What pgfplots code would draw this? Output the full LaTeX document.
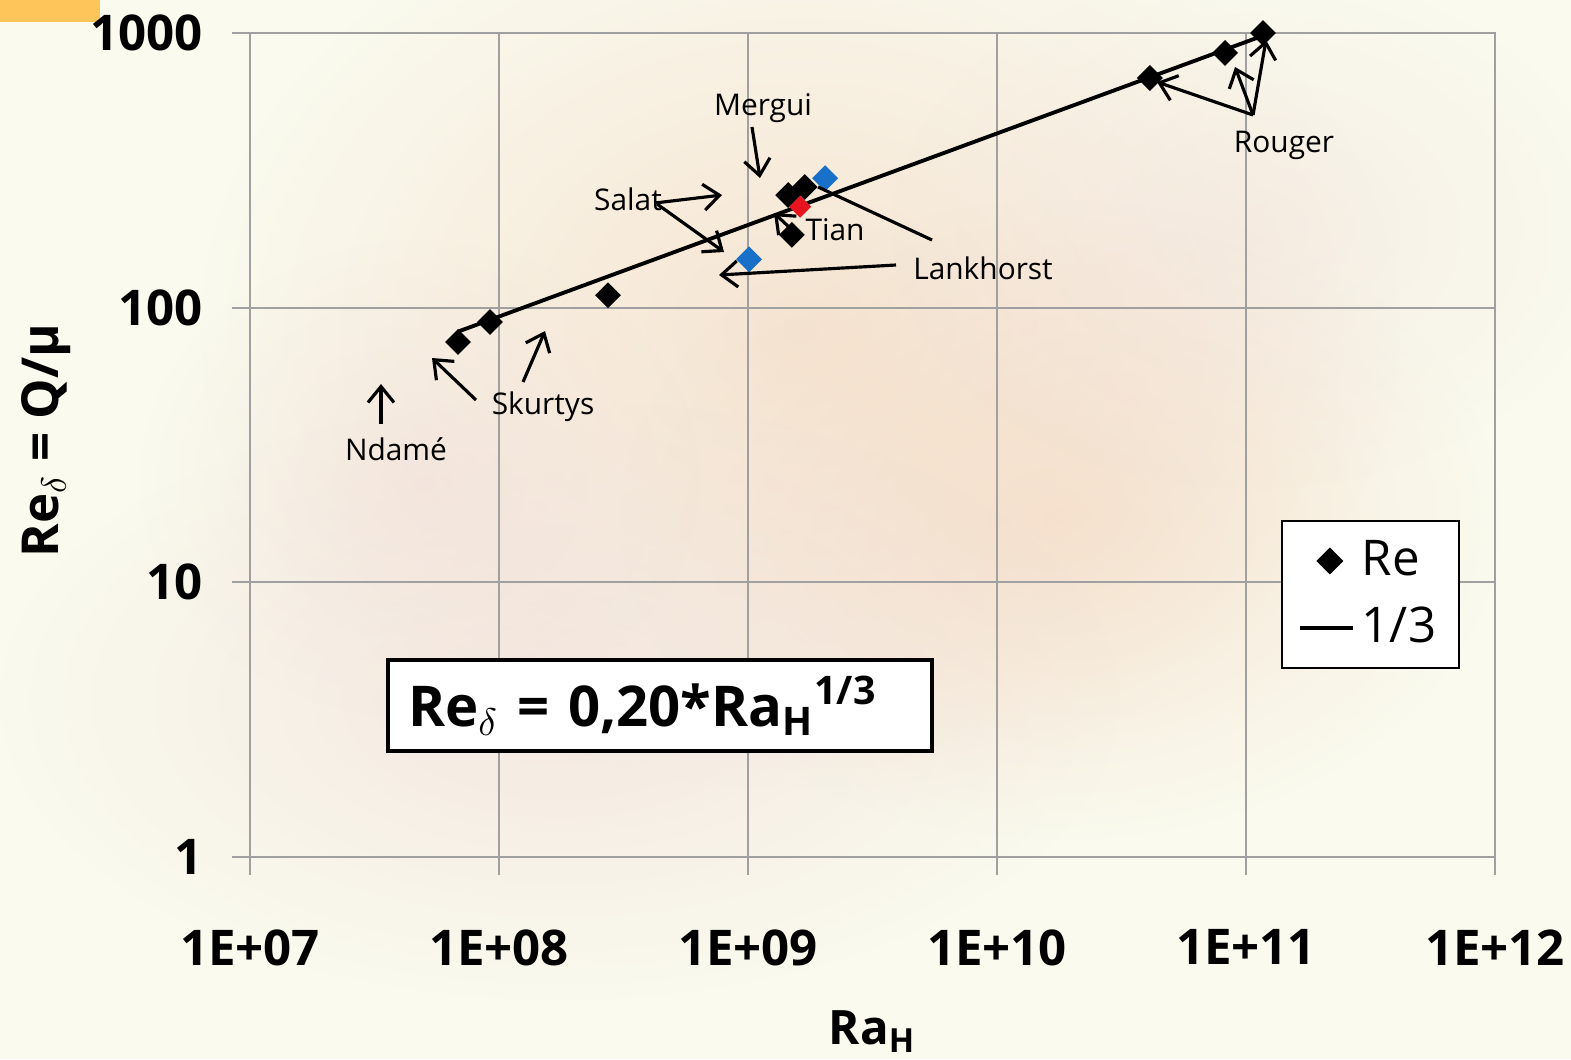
\documentclass[border=0pt]{standalone}
\usepackage{pgfplots}
\pgfplotsset{compat=1.18}
\usepackage{fontspec}
\setmainfont{Open Sans}
\usetikzlibrary{arrows.meta,fadings}
\tikzfading[name=blob, inner color=transparent!0, outer color=transparent!100]
\definecolor{bg}{RGB}{250,250,238}
\definecolor{gridc}{RGB}{160,160,160}
\definecolor{blueM}{RGB}{24,112,200}
\definecolor{redM}{RGB}{230,20,30}
\definecolor{orangeT}{RGB}{253,197,90}
\definecolor{peach}{RGB}{243,214,192}
\definecolor{pinkish}{RGB}{240,220,215}
\pgfplotsset{shortline/.style={legend image code/.code={\draw[##1] (0cm,0cm) -- (0.53cm,0cm);}}}
\begin{document}
\begin{tikzpicture}
\begin{scope}[x=0.1mm,y=-0.1mm,shift={(-25mm,85.7mm)}]
  \fill[bg] (0,0) rectangle (1571,1059);
  \begin{scope}
  \clip (0,0) rectangle (1571,1059);
  \fill[peach, path fading=blob, opacity=0.6] (800,330) ellipse [x radius=60mm, y radius=46mm];
  \fill[peach, path fading=blob, opacity=0.6] (1060,520) ellipse [x radius=44mm, y radius=32mm];
  \fill[pinkish, path fading=blob, opacity=0.6] (560,700) ellipse [x radius=56mm, y radius=30mm];
  \fill[pinkish, path fading=blob, opacity=0.5] (420,480) ellipse [x radius=28mm, y radius=24mm];
  \fill[pinkish, path fading=blob, opacity=0.4] (1250,230) ellipse [x radius=36mm, y radius=26mm];
  \end{scope}
  \fill[orangeT] (0,0) rectangle (100,22);
\end{scope}
\begin{axis}[
  at={(0,0)}, anchor=south west,
  scale only axis, width=124.5mm, height=82.4mm,
  xmode=log, ymode=log,
  xmin=1e7, xmax=1e12, ymin=1, ymax=1000,
  xtick={1e7,1e8,1e9,1e10,1e11,1e12},
  xticklabels={1E+07,1E+08,1E+09,1E+10,1E+11,1E+12},
  ytick={1,10,100,1000}, yticklabels={1,10,100,1000},
  xminorticks=false, yminorticks=false,
  grid=major, major grid style={gridc, line width=0.6pt},
  axis line style={gridc, line width=0.6pt},
  tick style={gridc, line width=0.6pt},
  tick align=outside, major tick length=1.8mm,
  xtick pos=bottom, ytick pos=left,
  ticklabel style={font=\fontsize{14}{16}\selectfont\bfseries, text=black},
  xticklabel style={yshift=-4.2mm},
  yticklabel style={xshift=-1.7mm},
  xlabel={\textbf{Ra}\textsubscript{\textbf{H}}},
  ylabel={\textbf{Re}\textsubscript{$\delta$} \textbf{= Q/μ}},
  every axis x label/.style={at={(axis description cs:0.5,-0.212)}, anchor=center, font=\fontsize{13.5}{16}\selectfont},
  every axis y label/.style={at={(axis description cs:-0.164,0.505)}, anchor=center, rotate=90, font=\fontsize{14.5}{17}\selectfont},
  legend style={at={(axis description cs:0.9,0.3186)}, anchor=center, draw=black, line width=0.6pt, fill=white,
    font=\fontsize{14}{16}\selectfont, inner xsep=1.6mm, inner ysep=1.3mm, row sep=1.2mm},
  legend cell align=left,
]
\addplot[only marks, mark=square*, mark size=2.4pt, mark options={rotate=45, fill=black, draw=black}]
  coordinates {(6.84e7,75) (9.2e7,88.7) (2.74e8,111) (1.45e9,257) (1.69e9,275) (1.50e9,184)
               (4.11e10,686) (8.24e10,846) (1.17e11,1000)};
\addlegendentry{Re}
\addplot[black, line width=1.1pt, shortline]
  coordinates {(6.84e7,81.8) (1.17e11,978)};
\addlegendentry{1/3}
\addplot[forget plot, only marks, mark=square*, mark size=2.4pt, mark options={rotate=45, fill=blueM, draw=blueM}]
  coordinates {(2.04e9,296) (1.01e9,150)};
\addplot[forget plot, only marks, mark=square*, mark size=2.0pt, mark options={rotate=45, fill=redM, draw=redM}]
  coordinates {(1.62e9,233)};
\end{axis}
\begin{scope}[x=0.1mm,y=-0.1mm,shift={(-25mm,85.7mm)}, font=\fontsize{8.5}{10}\selectfont,
  arr/.style={-{Straight Barb[length=1.6mm,width=2.6mm]}, line width=0.9pt}]
  \node at (763,108) {Mergui};
  \draw[arr] (752,127) -- (760,178);
  \node at (628,199) {Salat};
  \draw[arr] (655,203) -- (722,195);
  \draw[arr] (657,204) -- (724,252);
  \node at (835,230) {Tian};
  \draw[arr] (790,228) -- (774,213);
  \node at (983,268) {Lankhorst};
  \draw[arr] (896,265) -- (719,275);
  \draw[line width=0.9pt] (932,240) -- (818,187);
  \node at (1284,145) {Rouger};
  \draw[arr] (1253,115) -- (1157,82);
  \draw[arr] (1253,115) -- (1235,67);
  \draw[arr] (1253,115) -- (1266,40);
  \node at (543,407) {Skurtys};
  \draw[arr] (476,400) -- (432,358);
  \draw[arr] (523,382) -- (545,331);
  \node at (396,449) {Ndamé};
  \draw[arr] (381,424) -- (381,384);
  \node[draw=black, fill=white, line width=1pt, minimum width=54.4mm, minimum height=9.1mm,
        text width=50.4mm, inner xsep=2mm, align=left, font=\fontsize{16}{19}\selectfont\bfseries]
        at (660,705.5) {Re\textsubscript{$\delta$} = 0,20*Ra\textsubscript{H}\textsuperscript{1/3}};
\end{scope}
\pgfresetboundingbox
\path[use as bounding box] (-25mm,-20.2mm) rectangle (132.1mm,85.7mm);
\end{tikzpicture}
\end{document}
